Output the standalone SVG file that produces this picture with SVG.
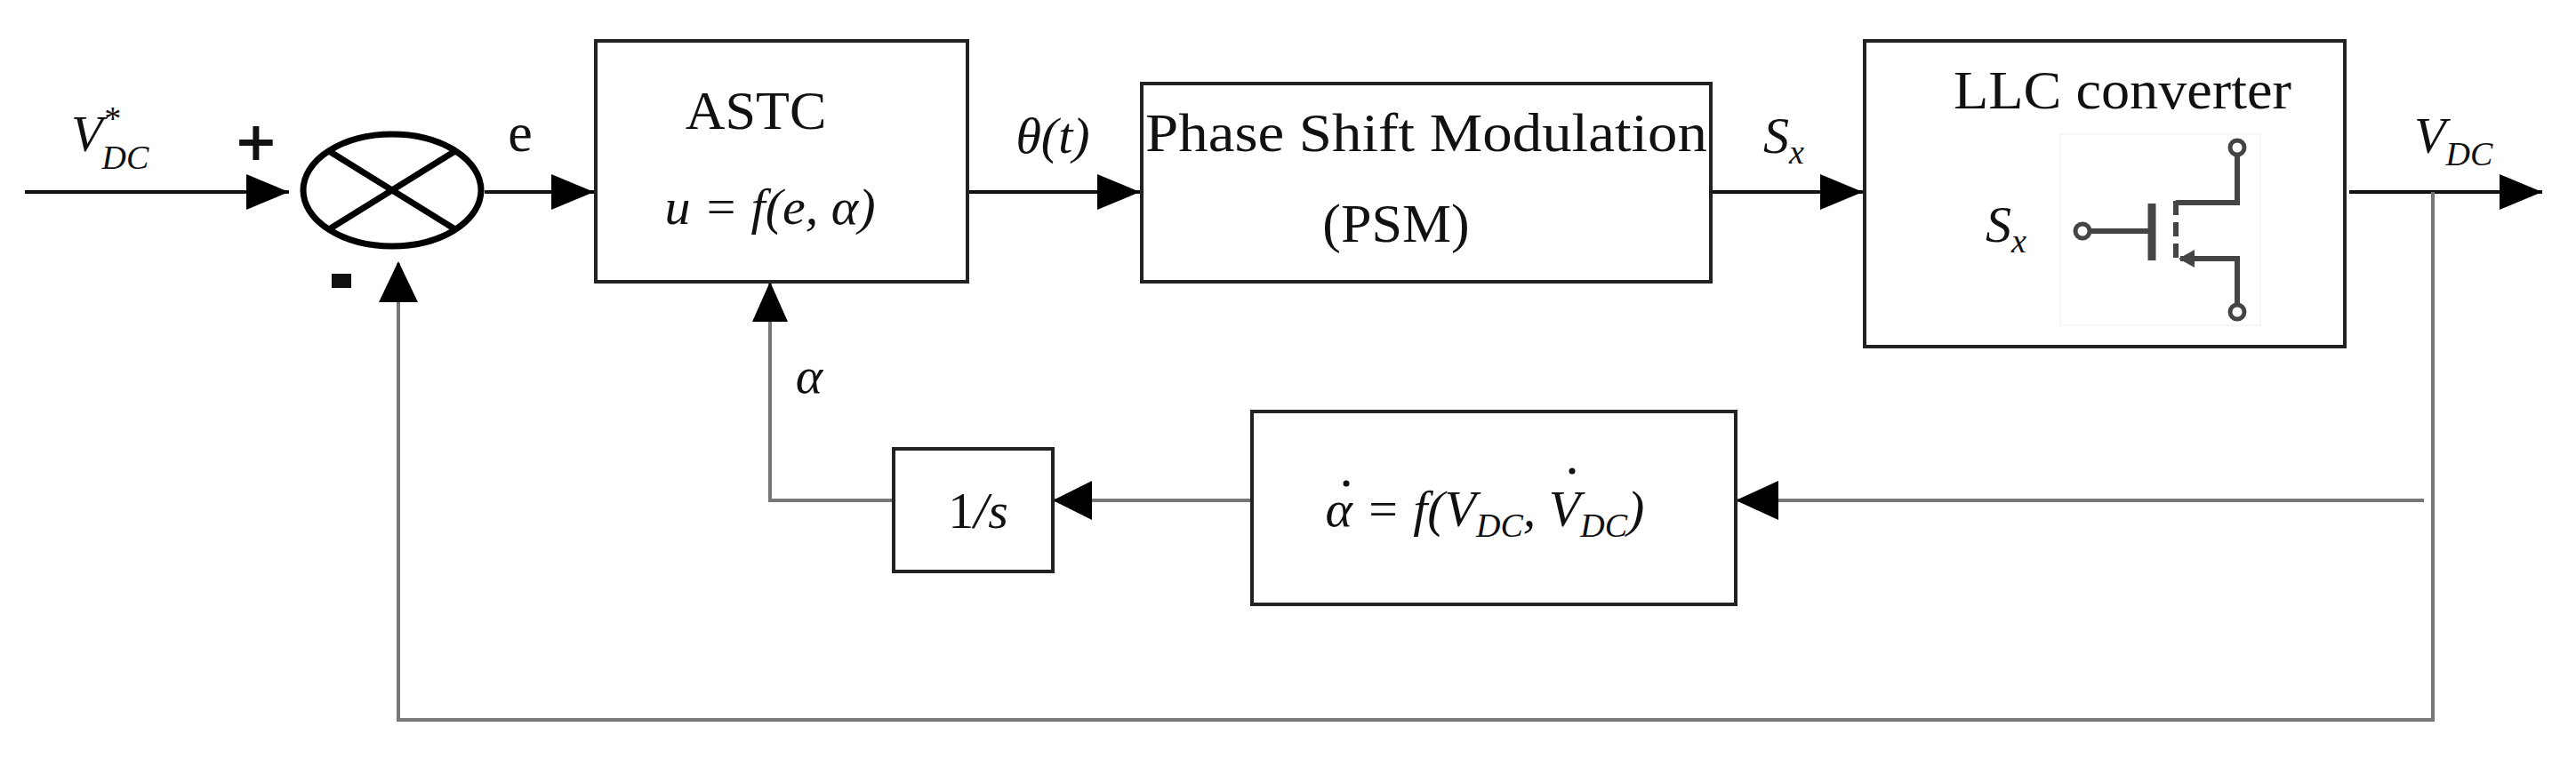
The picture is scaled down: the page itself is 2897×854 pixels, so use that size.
<svg xmlns="http://www.w3.org/2000/svg" width="2897" height="854" viewBox="0 0 2897 854">
<style>
.b{fill:#fff;stroke:#222;stroke-width:4}
.l{stroke:#111;stroke-width:4;fill:none}
.g{stroke:#777;stroke-width:4;fill:none}
.t{font-family:"Liberation Serif",serif;font-size:62px;fill:#111}
.m{font-family:"Liberation Serif",serif;font-style:italic;font-size:58px;fill:#111}
.s{font-size:38px}
.p{font-family:"DejaVu Sans",sans-serif;font-weight:bold;font-size:60px;fill:#111}
.q{stroke:#444;stroke-width:6;fill:none}
</style>
<defs>
<marker id="ab" viewBox="0 0 10 10" refX="10" refY="5" markerWidth="48" markerHeight="40" markerUnits="userSpaceOnUse" orient="auto" preserveAspectRatio="none"><path d="M0,0L10,5L0,10z" fill="#000"/></marker>
</defs>
<g id="connectors">
<line class="l" x1="28" y1="216" x2="325" y2="216" marker-end="url(#ab)"/>
<line class="l" x1="545" y1="216" x2="668" y2="216" marker-end="url(#ab)"/>
<line class="l" x1="1088" y1="216" x2="1282" y2="216" marker-end="url(#ab)"/>
<line class="l" x1="1924" y1="216" x2="2095" y2="216" marker-end="url(#ab)"/>
<line class="l" x1="2642" y1="216" x2="2859" y2="216" marker-end="url(#ab)"/>
<polyline class="g" points="2736,216 2736,810 448,810 448,296"/>
<path d="M426,340L448,294L470,340z" fill="#000"/>
<line class="g" x1="2726" y1="563" x2="1954" y2="563"/>
<path d="M1952,563L2000,541L2000,585z" fill="#000"/>
<line class="g" x1="1408" y1="563" x2="1186" y2="563"/>
<path d="M1184,563L1228,541L1228,585z" fill="#000"/>
<polyline class="g" points="1005,563 866,563 866,319"/>
<path d="M846,362L866,317L886,362z" fill="#000"/>
</g>
<g id="sum">
<ellipse cx="441" cy="214" rx="100" ry="63" fill="#fff" stroke="#000" stroke-width="7"/>
<line x1="370" y1="170" x2="512" y2="258" stroke="#000" stroke-width="7"/>
<line x1="370" y1="258" x2="512" y2="170" stroke="#000" stroke-width="7"/>
<text class="p" x="288" y="180" text-anchor="middle">+</text>
<rect x="373" y="308" width="22" height="16" fill="#111"/>
</g>
<g id="labels">
<text class="m" x="80" y="170">V<tspan class="s" dy="-24">*</tspan><tspan class="s" dx="-20" dy="44">DC</tspan></text>
<text class="t" x="585" y="170" text-anchor="middle">e</text>
<text class="m" x="1184" y="172" text-anchor="middle">θ(t)</text>
<text class="m" x="2006" y="172" text-anchor="middle">S<tspan class="s" dy="12">x</tspan></text>
<text class="m" x="2715" y="172">V<tspan class="s" dy="14">DC</tspan></text>
<text class="m" x="910" y="442" text-anchor="middle">α</text>
</g>
<g id="astc">
<rect class="b" x="670" y="46" width="418" height="271"/>
<text class="t" x="850" y="145" text-anchor="middle">ASTC</text>
<text class="m" x="866" y="252" text-anchor="middle">u = f(e, α)</text>
</g>
<g id="psm">
<rect class="b" x="1284" y="94" width="640" height="223"/>
<text class="t" x="1604" y="170" text-anchor="middle" textLength="632" lengthAdjust="spacingAndGlyphs">Phase Shift Modulation</text>
<text class="t" x="1570" y="272" text-anchor="middle">(PSM)</text>
</g>
<g id="llc">
<rect class="b" x="2097" y="46" width="540" height="344"/>
<text class="t" x="2387" y="122" text-anchor="middle" textLength="380" lengthAdjust="spacingAndGlyphs">LLC converter</text>
<text class="m" x="2256" y="272" text-anchor="middle">S<tspan class="s" dy="12">x</tspan></text>
<rect x="2317" y="151" width="225" height="215" fill="#fff" stroke="#eee" stroke-width="1"/>
<circle cx="2342" cy="260" r="8" fill="#fff" stroke="#444" stroke-width="5"/>
<line class="q" x1="2350" y1="260" x2="2419" y2="260"/>
<line x1="2420" y1="229" x2="2420" y2="293" stroke="#444" stroke-width="9"/>
<line x1="2447" y1="226" x2="2447" y2="294" stroke="#444" stroke-width="6" stroke-dasharray="16,8"/>
<polyline class="q" points="2447,228 2516,228 2516,174"/>
<circle cx="2516" cy="166" r="8" fill="#fff" stroke="#444" stroke-width="5"/>
<polyline class="q" points="2452,291 2516,291 2516,343"/>
<path d="M2450,291L2468,281L2468,301z" fill="#444"/>
<circle cx="2516" cy="351" r="8" fill="#fff" stroke="#444" stroke-width="5"/>
</g>
<g id="adapt">
<rect class="b" x="1408" y="463" width="544" height="217"/>
<text class="m" x="1670" y="592" text-anchor="middle">α = f(V<tspan class="s" dy="12">DC</tspan><tspan dy="-12">, V</tspan><tspan class="s" dy="12">DC</tspan><tspan dy="-12">)</tspan></text>
<circle cx="1514" cy="544" r="3.5" fill="#111"/>
<circle cx="1768" cy="530" r="3.5" fill="#111"/>
</g>
<g id="integrator">
<rect class="b" x="1005" y="505" width="179" height="138"/>
<text class="m" x="1100" y="594" text-anchor="middle" font-size="64"><tspan font-style="normal">1</tspan>/s</text>
</g>
</svg>
